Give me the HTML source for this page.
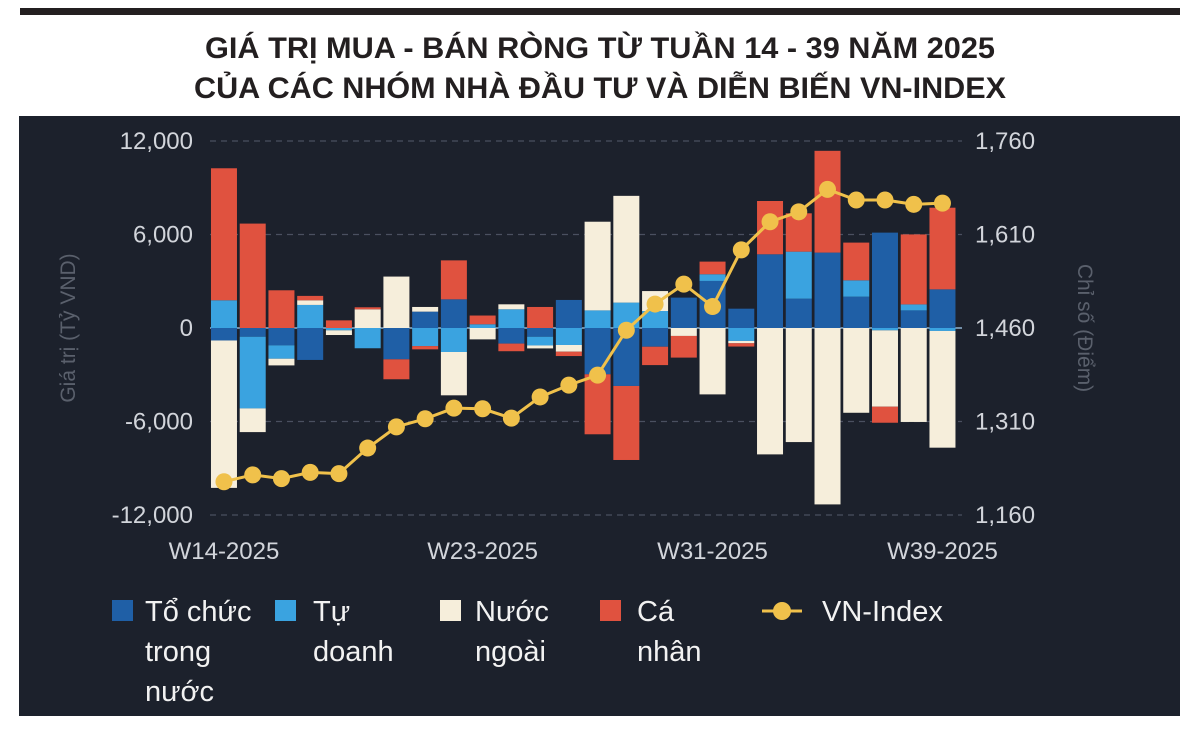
<!DOCTYPE html>
<html><head><meta charset="utf-8">
<style>
html,body{margin:0;padding:0;background:#fff;}
svg{display:block;}
</style></head>
<body>
<svg id="chart" width="1200" height="731" viewBox="0 0 1200 731" xmlns="http://www.w3.org/2000/svg">
<rect x="20" y="8" width="1160" height="7" fill="#231f20"/>
<text x="600" y="58" text-anchor="middle" font-family="Liberation Sans, sans-serif" font-weight="bold" font-size="30" fill="#231f20" textLength="790" lengthAdjust="spacingAndGlyphs">GIÁ TRỊ MUA - BÁN RÒNG TỪ TUẦN 14 - 39 NĂM 2025</text>
<text x="600" y="98" text-anchor="middle" font-family="Liberation Sans, sans-serif" font-weight="bold" font-size="30" fill="#231f20" textLength="812" lengthAdjust="spacingAndGlyphs">CỦA CÁC NHÓM NHÀ ĐẦU TƯ VÀ DIỄN BIẾN VN-INDEX</text>
<rect x="19" y="116" width="1161" height="600" fill="#1c212c"/>
<g id="grid"></g>
<g id="bars"></g>
<g id="line"></g>
<g id="axes"></g>
<g id="legend" font-family="Liberation Sans, sans-serif" font-size="29" fill="#f2f2f2">
  <rect x="112" y="600" width="21" height="21" fill="#1f5fa6"/>
  <text><tspan x="145" y="621">Tổ chức</tspan><tspan x="145" y="661">trong</tspan><tspan x="145" y="701">nước</tspan></text>
  <rect x="275" y="600" width="21" height="21" fill="#3aa3e0"/>
  <text><tspan x="313" y="621">Tự</tspan><tspan x="313" y="661">doanh</tspan></text>
  <rect x="440" y="600" width="21" height="21" fill="#f6eedb"/>
  <text><tspan x="475" y="621">Nước</tspan><tspan x="475" y="661">ngoài</tspan></text>
  <rect x="600" y="600" width="21" height="21" fill="#e0523f"/>
  <text><tspan x="637" y="621">Cá</tspan><tspan x="637" y="661">nhân</tspan></text>
  <line x1="762" y1="611" x2="802" y2="611" stroke="#f0c14b" stroke-width="3"/>
  <circle cx="782" cy="611" r="9" fill="#f0c14b"/>
  <text x="822" y="621">VN-Index</text>
</g>
</svg>
<script>
const weeks = ["W14","W15","W16","W17","W18","W19","W20","W21","W22","W23","W24","W25","W26","W27","W28","W29","W30","W31","W32","W33","W34","W35","W36","W37","W38","W39"];
const xTickLabels = ["W14-2025","W23-2025","W31-2025","W39-2025"];
const xTickIndex = [0,9,17,25];
const toChuc = [-800,-560,-1110,-2050,0,0,-2010,1050,1840,0,-1000,-560,1800,-2970,-3720,-1200,1950,3020,1240,4730,1880,4840,2010,6120,1130,2480];
const tuDoanh = [1780,-4600,-860,1480,-150,-1300,0,-1160,-1540,240,1200,-560,-1090,1130,1630,1090,0,430,-830,0,3020,0,1050,-150,385,-190];
const nuocNgoai = [-9460,-1520,-430,300,-300,1200,3300,300,-2780,-730,320,-190,-430,5690,6850,1280,-510,-4260,-150,-8110,-7320,-11320,-5440,-4900,-6030,-7490];
const caNhan = [8470,6700,2420,280,490,130,-1280,-210,2500,560,-490,1350,-280,-3850,-4750,-1180,-1390,810,-210,3420,2460,6530,2420,-1030,4490,5240];
const vnIndex = [1215,1226,1220,1230,1228,1269,1303,1316,1333,1332,1317,1351,1370,1386,1458,1500,1532,1496,1587,1632,1648,1684,1667,1667,1660,1662];
const leftTicks = [12000,6000,0,-6000,-12000];
const rightTicks = [1760,1610,1460,1310,1160];

const NS="http://www.w3.org/2000/svg";
const X0=209.6, STEP=28.74, BW=26;
const yL = v => 328 - v*(187/12000);
const yR = v => 516 - (v-1160)*(374/600);
const xC = i => X0 + STEP*i + STEP/2;
function mk(tag, attrs, parent){const e=document.createElementNS(NS,tag);for(const k in attrs)e.setAttribute(k,attrs[k]);parent.appendChild(e);return e;}
const grid=document.getElementById('grid'), bars=document.getElementById('bars'), line=document.getElementById('line'), axes=document.getElementById('axes');
const F="Liberation Sans, sans-serif";
leftTicks.forEach((t,i)=>{
  const y=yL(t);
  const g = mk('line',{x1:210,x2:962,y1:y,y2:y,stroke:t===0?'#8fb3d0':'#4a5060','stroke-width':t===0?1.5:1.2,'stroke-dasharray':t===0?'none':'6 5'},grid);
  
  
  const l = mk('text',{x:193,y:y+8,'text-anchor':'end','font-family':F,'font-size':24,fill:'#d2d5db'},axes);
  l.textContent = t.toLocaleString('en-US');
  
  
  const r = mk('text',{x:975,y:y+8,'font-family':F,'font-size':24,fill:'#d2d5db'},axes);
  r.textContent = rightTicks[i].toLocaleString('en-US');
  
  
});
xTickIndex.forEach((idx,k)=>{
  const t=mk('text',{x:xC(idx),y:559,'text-anchor':'middle','font-family':F,'font-size':24,fill:'#d2d5db'},axes);
  t.textContent=xTickLabels[k];
  
  
});
const yt=mk('text',{x:0,y:0,transform:'translate(75,328) rotate(-90)','text-anchor':'middle','font-family':F,'font-size':21,fill:'#5a606c'},axes);
yt.textContent='Giá trị (Tỷ VND)';


const yt2=mk('text',{x:0,y:0,transform:'translate(1078,328) rotate(90)','text-anchor':'middle','font-family':F,'font-size':21,fill:'#5a606c'},axes);
yt2.textContent='Chỉ số (Điểm)';



const series=[[toChuc,'#1f5fa6','to-chuc'],[tuDoanh,'#3aa3e0','tu-doanh'],[nuocNgoai,'#f6eedb','nuoc-ngoai'],[caNhan,'#e0523f','ca-nhan']];
weeks.forEach((w,i)=>{
  let pos=0, neg=0;
  series.forEach(([arr,col,nm])=>{
    const v=arr[i]; if(!v) return;
    let a,b;
    if(v>0){a=pos;b=pos+v;pos=b;}else{a=neg;b=neg+v;neg=b;}
    const y1=yL(Math.max(a,b)), y2=yL(Math.min(a,b));
    const r=mk('rect',{x:xC(i)-BW/2,y:y1,width:BW,height:y2-y1,fill:col},bars);
    
    
  });
});
const pts=vnIndex.map((v,i)=>xC(i)+','+yR(v)).join(' ');
const pl=mk('polyline',{points:pts,fill:'none',stroke:'#f0c14b','stroke-width':3},line);


vnIndex.forEach((v,i)=>{
  const c=mk('circle',{cx:xC(i),cy:yR(v),r:8.5,fill:'#f0c14b'},line);
  
  
});
</script>
</body></html>
